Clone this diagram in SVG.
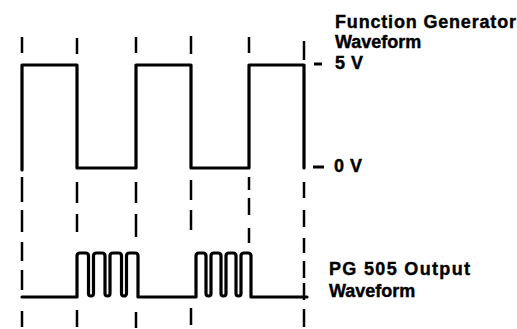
<svg xmlns="http://www.w3.org/2000/svg" width="517" height="329" viewBox="0 0 517 329">
<style>
.wave{fill:none;stroke:#000;stroke-width:3.2;stroke-linejoin:round;stroke-linecap:round}
.dash{fill:none;stroke:#000;stroke-width:2.5;stroke-linecap:butt}
.lbl{font-family:"Liberation Sans",Arial,sans-serif;font-weight:bold;font-size:18px;fill:#000;stroke:#000;stroke-width:0.4}
.tick{stroke:#000;stroke-width:3}
</style>
<rect width="517" height="329" fill="#fff"/>
<g id="connectors">
<g id="guides">
<path class="dash" d="M22,37V53 M22,177V202 M22,210V232 M22,242V261 M22,270V290 M22,311V327"/>
<path class="dash" d="M77,38V54 M77,182V203 M77,214V232 M77,310V327"/>
<path class="dash" d="M136,37V53 M136,182V203 M136,214V237 M136,312V328"/>
<path class="dash" d="M191,36V54 M191,180V200 M191,210V230 M191,308V325"/>
<path class="dash" d="M249,37V53 M249,177V190 M249,198V215 M249,228V243"/>
<path class="dash" d="M304,41V60 M304,182V198 M304,210V227 M304,238V253 M304,261V278 M304,283V300 M304,309V327"/>
</g>
<path class="tick" d="M314,64H322 M313,167H324"/>
</g>
<g id="function-generator-waveform">
<path class="wave" d="M22,170V65H77V168H136V65H191V168H249V65H304V168"/>
</g>
<g id="pg505-output-waveform">
<path class="wave" d="M22,297H77V256Q77,253 80,253H85.5Q88.5,253 88.5,256V293.5A2.5,2.5 0 0 0 93.5,293.5V256Q93.5,253 96.5,253H102Q105,253 105,256V293.5A2.5,2.5 0 0 0 110,293.5V256Q110,253 113,253H118.5Q121.5,253 121.5,256V293.5A2.5,2.5 0 0 0 126.5,293.5V256Q126.5,253 129.5,253H135Q138,253 138,256V297H196V256Q196,253 199,253H203Q206,253 206,256V293.5A2.5,2.5 0 0 0 211,293.5V256Q211,253 214,253H218Q221,253 221,256V293.5A2.5,2.5 0 0 0 226,293.5V256Q226,253 229,253H233Q236,253 236,256V293.5A2.5,2.5 0 0 0 241,293.5V256Q241,253 244,253H248Q251,253 251,256V297H307"/>
</g>
<g id="labels">
<text class="lbl" x="335" y="28" textLength="181" lengthAdjust="spacing">Function Generator</text>
<text class="lbl" x="335" y="48">Waveform</text>
<text class="lbl" x="335" y="69" textLength="28" lengthAdjust="spacing">5 V</text>
<text class="lbl" x="334" y="172" textLength="28" lengthAdjust="spacing">0 V</text>
<text class="lbl" x="329" y="275" textLength="141" lengthAdjust="spacing">PG 505 Output</text>
<text class="lbl" x="329" y="297">Waveform</text>
</g>
</svg>
